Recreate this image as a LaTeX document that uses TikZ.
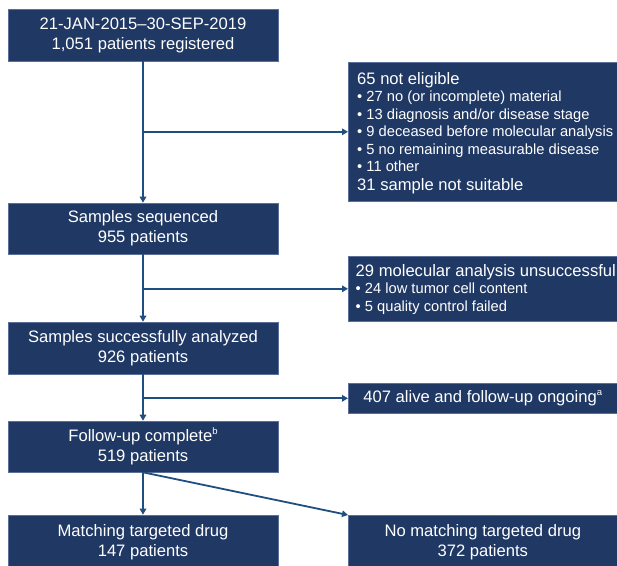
\documentclass[tikz,border=0pt]{standalone}
\usepackage{fontspec}
\setmainfont{Liberation Sans}
\usetikzlibrary{arrows.meta}
\definecolor{boxfill}{HTML}{203864}
\definecolor{boxedge}{HTML}{5B6F99}
\definecolor{conncol}{HTML}{1F4E80}
\newcommand{\supx}[1]{\raisebox{0.42em}{\fontsize{9.5}{10}\selectfont #1}}
\begin{document}
\begin{tikzpicture}[x=1pt,y=-1pt,
  mainbox/.style={draw=boxedge, line width=0.6pt, fill=boxfill, text=white, align=center,
    font=\fontsize{16.6}{20}\selectfont, minimum width=270pt, minimum height=51pt, inner sep=0pt},
  sidebox/.style={draw=boxedge, line width=0.6pt, fill=boxfill, text=white, inner sep=0pt,
    anchor=north west, minimum width=269pt, font=\fontsize{16.6}{20}\selectfont},
  bigtxt/.style={text=white, anchor=base west, inner sep=0pt, font=\fontsize{16.6}{20}\selectfont},
  bultxt/.style={text=white, anchor=base west, inner sep=0pt, font=\fontsize{14.7}{17}\selectfont},
  connarrow/.style={draw=conncol, line width=1.8pt, -{Triangle[length=6pt,width=6.5pt]}},
  connline/.style={draw=conncol, line width=1.8pt},
  ]
\useasboundingbox (0,0) rectangle (617,565);

% main column
\node[mainbox, minimum height=52pt] (b1) at (143,35) {21-JAN-2015–30-SEP-2019\\1,051 patients registered};
\node[mainbox] (b3) at (143,228.5) {Samples sequenced\\955 patients};
\node[mainbox, minimum height=52pt] (b5) at (143,348) {Samples successfully analyzed\\926 patients};
\node[mainbox] (b7) at (143,446.5) {Follow-up complete\supx{b}\\519 patients};
\node[mainbox, minimum height=54pt] (b8) at (143,542) {Matching targeted drug\\147 patients};

% side boxes
\node[sidebox, minimum height=139pt] (b2) at (348,62) {};
\node[bigtxt] (t21) at (357,84) {65 not eligible};
\node[bultxt] (t22) at (357,101.5) {• 27 no (or incomplete) material};
\node[bultxt] (t23) at (357,119) {• 13 diagnosis and/or disease stage};
\node[bultxt] (t24) at (357,136.5) {• 9 deceased before molecular analysis};
\node[bultxt] (t25) at (357,154) {• 5 no remaining measurable disease};
\node[bultxt] (t26) at (357,171.5) {• 11 other};
\node[bigtxt] (t27) at (357,190.5) {31 sample not suitable};

\node[sidebox, minimum height=65pt] (b4) at (348,256) {};
\node[bigtxt] (t41) at (355.5,276) {29 molecular analysis unsuccessful};
\node[bultxt] (t42) at (355.5,293.5) {• 24 low tumor cell content};
\node[bultxt] (t43) at (355.5,311) {• 5 quality control failed};

\node[sidebox, minimum height=30pt] (b6) at (348,383) {407 alive and follow-up ongoing\supx{a}};

\node[sidebox, minimum height=54pt, align=center] (b9) at (348,515) {No matching targeted drug\\372 patients};

% connectors
\draw[connarrow] (b1.south) -- (b3.north);
\coordinate (j1) at (b1.south |- b2.west);
\draw[connarrow] (j1) -- (b2.west);

\draw[connarrow] (b3.south) -- (b5.north);
\coordinate (j2) at (b3.south |- b4.west);
\draw[connarrow] (j2) -- (b4.west);

\draw[connarrow] (b5.south) -- (b7.north);
\coordinate (j3) at (b5.south |- b6.west);
\draw[connarrow] (j3) -- (b6.west);

\draw[connarrow] (b7.south) -- (b8.north);
\draw[connarrow] (b7.south) -- (b9.north west);
\end{tikzpicture}
\end{document}
